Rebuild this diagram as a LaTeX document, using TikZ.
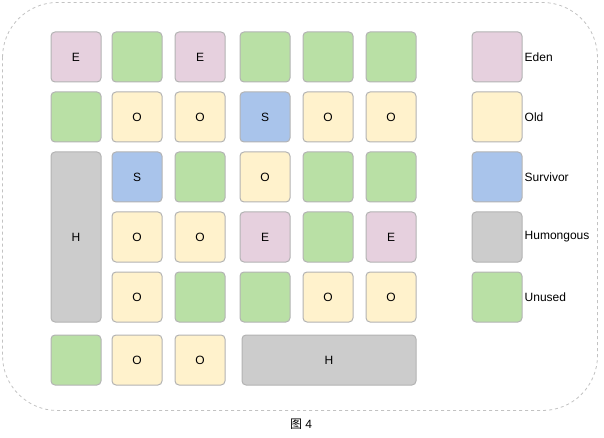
\documentclass[tikz,border=0pt]{standalone}
\usepackage{fontspec}
\setmainfont{Liberation Sans}
\newfontfamily\cjkfont{Noto Sans CJK SC}
\usepackage{tikz}
\usetikzlibrary{positioning}
\definecolor{edencol}{HTML}{E6D0DE}
\definecolor{oldcol}{HTML}{FFF2CC}
\definecolor{survcol}{HTML}{A9C4EB}
\definecolor{humcol}{HTML}{CCCCCC}
\definecolor{unusedcol}{HTML}{B9E0A5}
\definecolor{edgecol}{HTML}{B3B3B3}
\tikzstyle{region}=[draw=edgecol, line width=1pt, rounded corners=4pt, minimum width=50pt, minimum height=50pt, inner sep=0pt, font=\fontsize{12}{14}\selectfont]
\tikzstyle{eden}=[region, fill=edencol]
\tikzstyle{old}=[region, fill=oldcol]
\tikzstyle{surv}=[region, fill=survcol]
\tikzstyle{hum}=[region, fill=humcol]
\tikzstyle{unused}=[region, fill=unusedcol]
\tikzstyle{legtext}=[anchor=west, inner sep=0pt, font=\fontsize{12}{14}\selectfont]

\begin{document}
\begin{tikzpicture}[x=1pt, y=-1pt]
        \useasboundingbox (0,0) rectangle (604,438);
        % Heap outline
        \draw[edgecol!80, dashed, line width=0.8pt, rounded corners=55pt] (2.5,2.5) rectangle (597.5,410.5);

        % Row 1
        \node[eden] (r1c1) at (76,57) {E};
        \node[unused] (r1c2) at (137,57) {};
        \node[eden] (r1c3) at (200,57) {E};
        \node[unused] (r1c4) at (265,57) {};
        \node[unused] (r1c5) at (328,57) {};
        \node[unused] (r1c6) at (391,57) {};

        % Row 2
        \node[unused] (r2c1) at (76,117) {};
        \node[old] (r2c2) at (137,117) {O};
        \node[old] (r2c3) at (200,117) {O};
        \node[surv] (r2c4) at (265,117) {S};
        \node[old] (r2c5) at (328,117) {O};
        \node[old] (r2c6) at (391,117) {O};

        % Row 3
        \node[hum, minimum height=170pt] (htall) at (76,237) {H};
        \node[surv] (r3c2) at (137,177) {S};
        \node[unused] (r3c3) at (200,177) {};
        \node[old] (r3c4) at (265,177) {O};
        \node[unused] (r3c5) at (328,177) {};
        \node[unused] (r3c6) at (391,177) {};

        % Row 4
        \node[old] (r4c2) at (137,237) {O};
        \node[old] (r4c3) at (200,237) {O};
        \node[eden] (r4c4) at (265,237) {E};
        \node[unused] (r4c5) at (328,237) {};
        \node[eden] (r4c6) at (391,237) {E};

        % Row 5
        \node[old] (r5c2) at (137,297) {O};
        \node[unused] (r5c3) at (200,297) {};
        \node[unused] (r5c4) at (265,297) {};
        \node[old] (r5c5) at (328,297) {O};
        \node[old] (r5c6) at (391,297) {O};

        % Row 6
        \node[unused] (r6c1) at (76,360) {};
        \node[old] (r6c2) at (137,360) {O};
        \node[old] (r6c3) at (200,360) {O};
        \node[hum, minimum width=174pt] (hwide) at (329,360) {H};

        % Legend
        \node[eden] (legeden) at (497,57) {};
        \node[old] (legold) at (497,117) {};
        \node[surv] (legsurv) at (497,177) {};
        \node[hum] (leghum) at (497,237) {};
        \node[unused] (legunused) at (497,297) {};
        \node[legtext, right=2pt of legeden] (txeden) {Eden};
        \node[legtext, right=2pt of legold] (txold) {Old};
        \node[legtext, right=2pt of legsurv] (txsurv) {Survivor};
        \node[legtext, right=2pt of leghum] (txhum) {Humongous};
        \node[legtext, right=2pt of legunused] (txunused) {Unused};

        % Caption
        \node[font=\fontsize{12}{14}\selectfont, inner sep=0pt] (caption) at (301,424) {{\cjkfont 图} 4};
    \end{tikzpicture}
\end{document}
